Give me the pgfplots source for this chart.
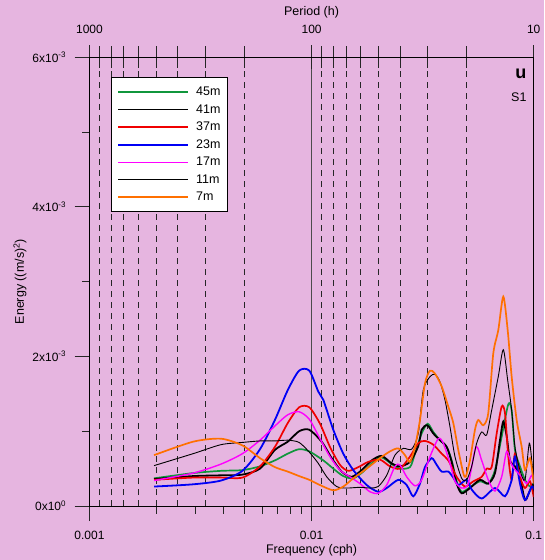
\documentclass[border=0pt]{standalone}
\usepackage{fontspec}
\setmainfont{Liberation Sans}
\usepackage{pgfplots}
\pgfplotsset{compat=1.18}
\definecolor{bg}{RGB}{230,181,224}
\definecolor{cgreen}{RGB}{16,150,60}
\definecolor{cred}{RGB}{240,0,0}
\definecolor{cblue}{RGB}{0,0,245}
\definecolor{cmag}{RGB}{255,0,255}
\definecolor{corange}{RGB}{255,112,0}
\newcommand{\fs}{\fontsize{12.5}{14.5}\selectfont}
\newcommand{\ft}{\fontsize{12}{14}\selectfont}
\begin{document}
\begin{tikzpicture}
\path[use as bounding box, fill=bg] (-89.5pt,-54pt) rectangle (454.5pt,506pt);
% period axis (top) with grid lines
\begin{axis}[at={(0,0)}, anchor=south west, scale only axis,
  width=444.2pt, height=448.7pt,
  xmode=log, xmin=0.001, xmax=0.1, ymin=0, ymax=6,
  axis x line*=top, axis y line=none,
  xtick={0.001,0.01,0.1}, xticklabels={1000,100,10},
  minor xtick={0.0011111,0.00125,0.0014286,0.0016667,0.002,0.0025,0.0033333,0.005,
               0.0111111,0.0125,0.0142857,0.0166667,0.02,0.025,0.0333333,0.05},
  xmajorgrids, xminorgrids,
  major grid style={black!70, line width=1.2pt},
  minor grid style={black!85, dash pattern=on 6pt off 5pt, line width=0.8pt},
  tick align=center, major tick length=24pt, minor tick length=22pt,
  tick style={black!85, line width=0.8pt},
  axis line style={line width=0.8pt},
  xticklabel style={font=\ft, yshift=8pt},
  xlabel={Period (h)}, xlabel style={font=\fs, at={(axis description cs:0.5,1.101)}, anchor=center},
]
\end{axis}
% data axis
\begin{axis}[at={(0,0)}, anchor=south west, scale only axis,
  width=444.2pt, height=448.7pt,
  xmode=log, xmin=0.001, xmax=0.1, ymin=0, ymax=6,
  xtick={0.001,0.01,0.1}, xticklabels={0.001,0.01,0.1},
  minor xtick={0.002,0.003,0.004,0.005,0.006,0.007,0.008,0.009,
               0.02,0.03,0.04,0.05,0.06,0.07,0.08,0.09},
  xtick pos=left, ytick pos=left,
  ytick={0,2,4,6},
  yticklabels={0x10\textsuperscript{0},2x10\textsuperscript{-3},4x10\textsuperscript{-3},6x10\textsuperscript{-3}},
  minor ytick={1,3,5},
  tick align=outside, major tick length=15pt, minor tick length=7.5pt,
  tick style={black!85, line width=0.8pt},
  axis line style={line width=0.8pt},
  tick label style={font=\ft},
  xticklabel style={yshift=-7pt},
  yticklabel style={xshift=-5pt},
  xlabel={Frequency (cph)}, xlabel style={font=\fs, at={(axis description cs:0.5,-0.099)}, anchor=center},
  ylabel={Energy ((m/s)\textsuperscript{2})}, ylabel style={font=\fs, at={(axis description cs:-0.1565,0.5)}, anchor=center},
  legend cell align=left,
  legend image code/.code={\draw[#1] (0pt,0pt) -- (70pt,0pt);},
  legend style={at={(rel axis cs:0.0484,0.956)}, anchor=north west, draw=black, fill=white,
    line width=0.8pt, font=\fs, inner xsep=6pt, inner ysep=8.5pt, row sep=5.4pt,
    nodes={inner sep=1pt},
    /tikz/every odd column/.append style={column sep=6pt}},
  every axis plot/.append style={smooth, tension=0.45},
]
% 45m
\addplot[cgreen, line width=1.7pt] coordinates {
(0.001953,0.37)(0.002930,0.44)(0.003906,0.47)(0.004883,0.48)(0.005859,0.53)(0.006836,0.61)(0.007813,0.70)(0.008789,0.76)(0.009766,0.73)
(0.01129,0.61)(0.01252,0.50)(0.01389,0.40)(0.01541,0.37)(0.01709,0.46)(0.01896,0.59)(0.02068,0.65)(0.02294,0.56)(0.02500,0.50)(0.02773,0.52)
(0.02921,0.70)(0.03131,0.97)(0.03333,1.10)(0.03532,0.99)(0.03785,0.88)(0.04057,0.79)(0.04273,0.61)(0.04501,0.33)(0.04740,0.19)(0.05165,0.25)
(0.05730,0.33)(0.06244,0.30)(0.06695,0.48)(0.07177,0.93)(0.07686,1.36)(0.07960,1.28)(0.08235,0.75)(0.08674,0.53)(0.09138,0.35)(0.09625,0.26)(0.1,0.30)};
\addlegendentry{45m\hspace{6pt}}
% 41m
\addplot[black, line width=1.8pt] coordinates {
(0.001953,0.36)(0.002930,0.40)(0.003906,0.41)(0.004883,0.42)(0.005859,0.50)(0.006836,0.75)(0.007813,0.86)(0.008789,1.00)(0.009766,1.02)
(0.01110,0.86)(0.01232,0.64)(0.01366,0.46)(0.01516,0.39)(0.01681,0.48)(0.01865,0.61)(0.02068,0.67)(0.02294,0.57)(0.02500,0.53)(0.02773,0.59)
(0.03022,0.80)(0.03131,1.02)(0.03319,1.08)(0.03532,0.97)(0.03785,0.88)(0.04057,0.79)(0.04273,0.59)(0.04501,0.30)(0.04740,0.17)(0.05165,0.24)
(0.05730,0.35)(0.06244,0.30)(0.06695,0.44)(0.07052,0.88)(0.07298,1.13)(0.07560,0.93)(0.07821,0.61)(0.08235,0.53)(0.08674,0.39)(0.09138,0.08)(0.09625,0.21)(0.1,0.30)};
\addlegendentry{41m}
% 37m
\addplot[cred, line width=1.7pt] coordinates {
(0.001953,0.35)(0.002930,0.38)(0.003906,0.38)(0.004883,0.38)(0.005859,0.53)(0.006836,0.79)(0.007813,1.11)(0.008789,1.32)(0.009766,1.32)
(0.01091,1.10)(0.01210,0.79)(0.01342,0.55)(0.01463,0.47)(0.01623,0.52)(0.01800,0.59)(0.02032,0.62)(0.02254,0.53)(0.02500,0.50)(0.02773,0.66)
(0.03022,0.84)(0.03240,0.87)(0.03532,0.82)(0.03852,0.70)(0.04125,0.61)(0.04501,0.39)(0.04904,0.26)(0.05345,0.33)(0.05832,0.39)(0.06141,0.50)
(0.06468,0.52)(0.06814,0.97)(0.07177,1.33)(0.07428,1.24)(0.07686,0.66)(0.07960,0.35)(0.08235,0.70)(0.08674,0.39)(0.09138,0.24)(0.09625,0.33)(0.1,0.12)};
\addlegendentry{37m}
% 23m
\addplot[cblue, line width=1.8pt] coordinates {
(0.001953,0.26)(0.002930,0.29)(0.003906,0.34)(0.004883,0.47)(0.005859,0.76)(0.006836,1.15)(0.007813,1.55)(0.008789,1.81)(0.009766,1.81)
(0.01072,1.53)(0.01129,1.42)(0.01252,1.02)(0.01389,0.70)(0.01541,0.48)(0.01771,0.28)(0.01996,0.19)(0.02178,0.24)(0.02457,0.35)(0.02680,0.28)
(0.02870,0.13)(0.03076,0.30)(0.03240,0.52)(0.03474,0.64)(0.03658,0.55)(0.03852,0.46)(0.04125,0.46)(0.04345,0.38)(0.04576,0.28)(0.04991,0.35)
(0.05257,0.22)(0.05832,0.10)(0.06695,0.24)(0.07428,0.13)(0.07960,0.35)(0.08235,0.66)(0.08674,0.30)(0.09138,0.08)(0.09795,0.26)(0.1,0.22)};
\addlegendentry{23m}
% 17m
\addplot[cmag, line width=1.4pt] coordinates {
(0.001953,0.34)(0.002930,0.44)(0.003906,0.56)(0.004883,0.70)(0.005859,0.88)(0.006836,1.07)(0.007813,1.22)(0.008789,1.26)(0.009766,1.16)
(0.01091,0.90)(0.01210,0.66)(0.01342,0.48)(0.01489,0.39)(0.01651,0.30)(0.01832,0.19)(0.01996,0.17)(0.02178,0.28)(0.02374,0.53)(0.02500,0.55)
(0.02680,0.39)(0.02921,0.27)(0.03131,0.35)(0.03413,0.66)(0.03719,0.90)(0.03917,0.84)(0.04199,0.57)(0.04422,0.33)(0.04740,0.24)(0.05075,0.30)
(0.05497,0.79)(0.05832,0.61)(0.06244,0.35)(0.06695,0.20)(0.07177,0.39)(0.07560,0.73)(0.07960,0.55)(0.08382,0.46)(0.08831,0.39)(0.09301,0.30)(0.09795,0.41)(0.1,0.35)};
\addlegendentry{17m}
% 11m
\addplot[black, line width=0.9pt] coordinates {
(0.001953,0.54)(0.002930,0.70)(0.003906,0.82)(0.004883,0.85)(0.005859,0.87)(0.006836,0.87)(0.007813,0.88)(0.008789,0.85)(0.009766,0.72)
(0.01072,0.57)(0.01170,0.39)(0.01297,0.26)(0.01439,0.24)(0.01651,0.25)(0.01832,0.24)(0.01996,0.26)(0.02178,0.41)(0.02374,0.68)(0.02587,0.77)
(0.02823,0.76)(0.03022,0.97)(0.03183,1.55)(0.03413,1.73)(0.03594,1.76)(0.03785,1.66)(0.03986,1.42)(0.04199,1.06)(0.04422,0.66)(0.04740,0.37)
(0.04991,0.35)(0.05257,0.53)(0.05537,0.84)(0.05832,0.99)(0.06141,0.95)(0.06468,1.28)(0.06928,1.73)(0.07298,2.09)(0.07639,1.68)(0.07960,1.28)
(0.08235,0.79)(0.08674,0.48)(0.09138,0.35)(0.09556,0.84)(0.09857,0.53)(0.1,0.35)};
\addlegendentry{11m}
% 7m
\addplot[corange, line width=1.7pt] coordinates {
(0.001953,0.68)(0.002930,0.86)(0.003906,0.90)(0.004883,0.81)(0.005859,0.64)(0.006836,0.52)(0.007813,0.46)(0.008789,0.40)(0.009766,0.35)
(0.01091,0.28)(0.01252,0.21)(0.01389,0.26)(0.01541,0.37)(0.01771,0.50)(0.02032,0.64)(0.02254,0.73)(0.02457,0.77)(0.02633,0.68)(0.02773,0.59)
(0.02921,0.79)(0.03076,1.15)(0.03240,1.64)(0.03413,1.81)(0.03594,1.77)(0.03852,1.60)(0.04125,1.33)(0.04345,1.11)(0.04576,0.75)(0.04819,0.44)
(0.04940,0.39)(0.05165,0.61)(0.05440,1.02)(0.05630,1.15)(0.05930,1.08)(0.06244,1.24)(0.06577,2.04)(0.06928,2.35)(0.07298,2.80)(0.07639,2.35)
(0.07960,1.73)(0.08382,1.15)(0.08831,0.79)(0.09138,0.48)(0.09625,0.64)(0.1,0.30)};
\addlegendentry{7m}
\node[anchor=east, font=\fontsize{18}{20}\selectfont\bfseries] at (rel axis cs:0.9917,0.964) {u};
\node[anchor=east, font=\fs] at (rel axis cs:0.9917,0.912) {S1};
\end{axis}
\end{tikzpicture}
\end{document}
